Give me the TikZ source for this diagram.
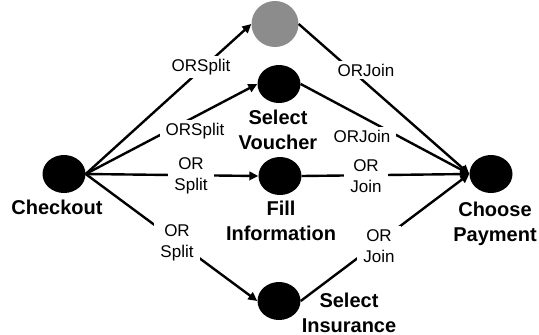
\documentclass[tikz,border=0pt]{standalone}
\usepackage{fontspec}
\setmainfont{Liberation Sans}
\usetikzlibrary{shapes.geometric,arrows.meta}
\definecolor{midgray}{RGB}{140,140,140}
\begin{document}
\begin{tikzpicture}[x=1pt,y=-1pt,
  state/.style={ellipse, fill=black, minimum width=43pt, minimum height=38pt, inner sep=0pt},
  flow/.style={line width=2.4pt, -{Triangle[length=9pt,width=8.5pt]}},
  lbl/.style={fill=white, inner xsep=6pt, inner ysep=3pt, font=\fontsize{17}{21}\selectfont, align=center, anchor=base},
  title/.style={font=\bfseries\fontsize{20}{25}\selectfont, align=center, anchor=base}]
\useasboundingbox (0,0) rectangle (539,335);
% states
\node[state] (checkout) at (64,174) {};
\node[state, fill=midgray, minimum width=47pt, minimum height=46pt] (grayst) at (275,24) {};
\node[state] (voucher) at (279,84) {};
\node[state] (fillinfo) at (280,176) {};
\node[state] (insurance) at (279,301) {};
\node[state] (pay) at (491,174) {};
% state names (base = last line)
\node[title] (tcheckout) at (57,214) {Checkout};
\node[title] (tvoucher) at (278,149) {Select\\Voucher};
\node[title] (tfill) at (281,240) {Fill\\Information};
\node[title] (tinsurance) at (349,332) {Select\\Insurance};
\node[title] (tpay) at (495,241) {Choose\\Payment};
% connectors
\draw[flow] (checkout.east) -- (grayst.west);
\draw[flow] (checkout.east) -- (voucher.west);
\draw[flow] (checkout.east) -- (fillinfo.west);
\draw[flow] (checkout.east) -- (insurance.west);
\draw[flow] (grayst.east) -- (pay.west);
\draw[flow] (voucher.east) -- (pay.west);
\draw[flow] (fillinfo.east) -- (pay.west);
\draw[flow] (insurance.east) -- (pay.west);
% connector labels
\node[lbl] (s1) at (201,71) {ORSplit};
\node[lbl] (s2) at (195,135) {ORSplit};
\node[lbl] (s3) at (191,190) {OR\\Split};
\node[lbl] (s4) at (177,257) {OR\\Split};
\node[lbl] (j1) at (366,76) {ORJoin};
\node[lbl] (j2) at (362,142) {ORJoin};
\node[lbl] (j3) at (366,192) {OR\\Join};
\node[lbl] (j4) at (379,262) {OR\\Join};
\end{tikzpicture}
\end{document}
